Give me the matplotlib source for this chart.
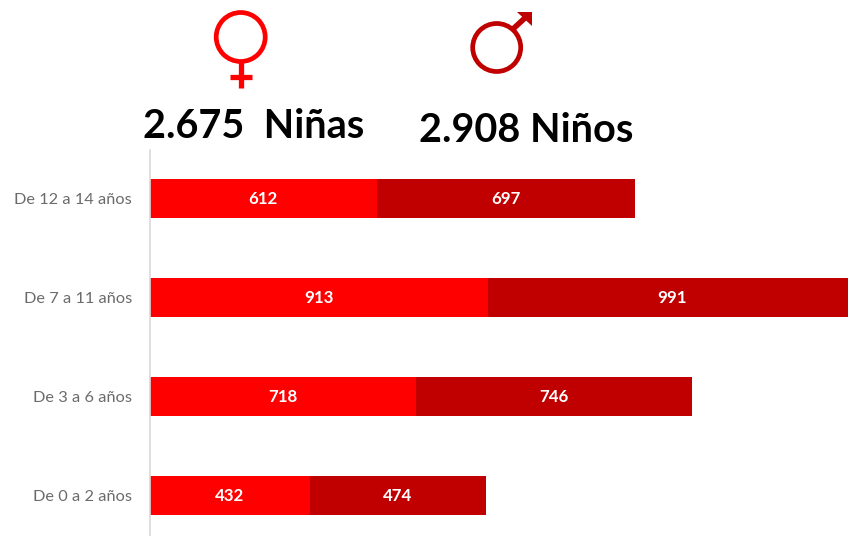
import matplotlib
matplotlib.use("Agg")
import matplotlib.pyplot as plt
from matplotlib.patches import Circle, Polygon

plt.rcParams['font.family'] = ['Lato', 'DejaVu Sans']

# values
categories = ['De 0 a 2 años', 'De 3 a 6 años', 'De 7 a 11 años', 'De 12 a 14 años']
ninas = [432, 718, 913, 612]
ninos = [474, 746, 991, 697]
total_ninas = '2.675  Niñas'
total_ninos = '2.908 Niños'

RED = '#FF0000'
DARK_RED = '#C00000'
W, H = 848, 536

fig = plt.figure(figsize=(W / 100, H / 100), dpi=100, facecolor='white')

# axes runs from the grey line to the right edge, bars get clipped there
ax = fig.add_axes([150 / W, 0, 698 / W, (H - 150) / H])
positions = list(range(len(categories)))
ax.barh(positions, ninas, height=0.394, color=RED)
ax.barh(positions, ninos, left=ninas, height=0.394, color=DARK_RED)

for pos, a, b in zip(positions, ninas, ninos):
    ax.text(a / 2, pos - 0.012, str(a), color='white', fontsize=12.2, fontweight='bold', ha='center', va='center')
    ax.text(a + b / 2, pos - 0.012, str(b), color='white', fontsize=12.2, fontweight='bold', ha='center', va='center')

ax.set_xlim(0, 698 / 0.3705)
ax.set_ylim(-0.414, 3.485)
ax.set_yticks(positions)
ax.set_yticklabels(categories, fontsize=11.8, color='#6B6B6B')
ax.set_xticks([])
ax.tick_params(axis='y', length=0, pad=13)
for side in ['top', 'right', 'bottom']:
    ax.spines[side].set_visible(False)
ax.spines['left'].set_color('#D9D9D9')
ax.spines['left'].set_linewidth(1.2)

# overlay in pixel coordinates for the gender icons and totals
over = fig.add_axes([0, 0, 1, 1], facecolor='none')
over.set_xlim(0, W)
over.set_ylim(H, 0)
over.axis('off')

# female symbol
over.add_patch(Circle((240.7, 37), 24.5, fill=False, edgecolor=RED, linewidth=3.4))
over.plot([240.7, 240.7], [62, 88], color=RED, linewidth=3.8, solid_capstyle='butt')
over.plot([230, 251.5], [77, 77], color=RED, linewidth=3.8, solid_capstyle='butt')

# male symbol
over.add_patch(Circle((496.7, 47.5), 24, fill=False, edgecolor=DARK_RED, linewidth=3.4))
over.plot([513, 526], [29, 17], color=DARK_RED, linewidth=4, solid_capstyle='butt')
over.add_patch(Polygon([[517, 12], [532, 12], [532, 26]], closed=True, color=DARK_RED, linewidth=0))

over.text(143, 127, total_ninas, fontsize=28.5, fontweight='bold', color='black', ha='left', va='center')
over.text(419, 130, total_ninos, fontsize=28.5, fontweight='bold', color='black', ha='left', va='center')

fig.savefig('out.png', dpi=100)
